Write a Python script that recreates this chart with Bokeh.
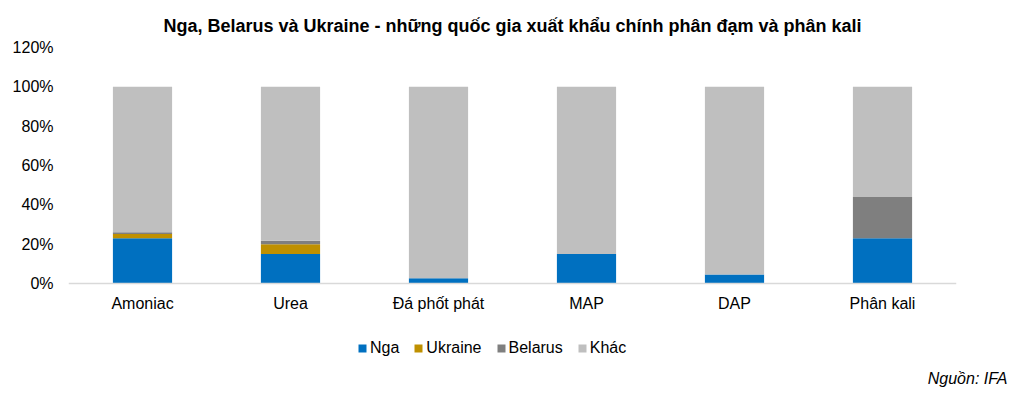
from bokeh.plotting import figure
from bokeh.models import ColumnDataSource, Legend, LegendItem, Title, FixedTicker, Range1d
from bokeh.embed import file_html
from bokeh.resources import INLINE

categories = ["Amoniac", "Urea", "Đá phốt phát", "MAP", "DAP", "Phân kali"]
nga = [23, 15, 2.7, 15, 4.6, 23]
ukraine = [2.2, 5, 0, 0, 0, 0]
belarus = [0.8, 1.8, 0, 0, 0, 21]
khac = [100 - a - b - c for a, b, c in zip(nga, ukraine, belarus)]
series = ["Nga", "Ukraine", "Belarus", "Khác"]
colors = ["#0070C0", "#BF9000", "#7F7F7F", "#BFBFBF"]
y_ticks = [0, 20, 40, 60, 80, 100, 120]

FONT = "Liberation Sans"

src = ColumnDataSource(dict(cat=categories, Nga=nga, Ukraine=ukraine, Belarus=belarus, Khac=khac))

# frame extends below 0 so that the legend sits inside it; the x axis is fixed at y=0
p = figure(x_range=categories, y_range=Range1d(-42.2, 120), frame_width=888, frame_height=319,
           output_backend="svg", toolbar_location=None, min_border_left=68, min_border_right=55,
           min_border_top=47, min_border_bottom=0)

renderers = p.vbar_stack(["Nga", "Ukraine", "Belarus", "Khac"], x="cat", width=0.4,
                         color=colors, line_color=None, source=src)

p.title.text = "Nga, Belarus và Ukraine - những quốc gia xuất khẩu chính phân đạm và phân kali"
p.title.align = "center"
p.title.text_font = FONT
p.title.text_font_size = "18px"
p.title.text_font_style = "bold"
p.title.text_color = "#000000"
p.title.standoff = 23

p.outline_line_color = None
p.xgrid.grid_line_color = None
p.ygrid.grid_line_color = None

p.yaxis.ticker = FixedTicker(ticks=y_ticks)
p.yaxis.major_label_overrides = {t: f"{t}%" for t in y_ticks}
p.yaxis.axis_line_color = None
p.yaxis.major_tick_line_color = None
p.yaxis.minor_tick_line_color = None
p.yaxis.major_label_text_font = FONT
p.yaxis.major_label_text_font_size = "16px"
p.yaxis.major_label_text_color = "#000000"
p.yaxis.major_label_standoff = 9

p.xaxis.fixed_location = 0
p.xaxis.axis_line_color = "#D9D9D9"
p.xaxis.axis_line_width = 1.5
p.xaxis.major_tick_line_color = None
p.xaxis.minor_tick_line_color = None
p.xaxis.major_label_text_font = FONT
p.xaxis.major_label_text_font_size = "16px"
p.xaxis.major_label_text_color = "#000000"
p.xaxis.major_label_standoff = 5

items = [LegendItem(label=s, renderers=[r]) for s, r in zip(series, renderers)]
legend = Legend(items=items, orientation="horizontal", location=(289, 8),
                label_text_font=FONT, label_text_font_size="16px", label_text_color="#000000",
                glyph_width=10, glyph_height=10, spacing=14, label_standoff=3, label_height=20,
                border_line_color=None, background_fill_alpha=0, margin=0, padding=0)
p.add_layout(legend, "center")

src_title = Title(text="Nguồn: IFA", align="right", offset=-51, text_font=FONT,
                  text_font_size="16px", text_font_style="italic", text_color="#000000",
                  standoff=3)
p.add_layout(src_title, "below")

open("out.html", "w").write(file_html(p, INLINE))
